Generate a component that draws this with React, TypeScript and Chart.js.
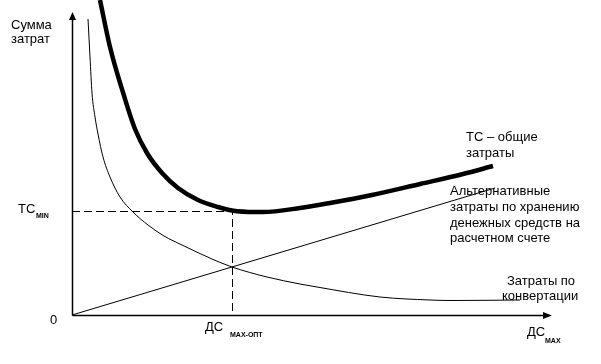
import React, { useEffect, useRef } from "react";
import { Chart, registerables } from "chart.js";

Chart.register(...registerables);

// Общие затраты (TC)
const tcX = [28, 38, 53, 63, 75, 90, 106, 126, 146, 160, 183, 191, 228, 258, 300, 348, 391, 421];
const tcY = [315, 268, 216, 186, 162, 142, 127, 115, 108, 104.5, 103, 103, 107, 112, 120, 131, 141, 149];

// Затраты по конвертации
const convX = [16, 18, 20, 23, 26, 31, 38, 48, 61, 76, 92, 110, 140, 160, 195, 228, 245, 308, 358, 378, 448];
const convY = [296, 258, 222, 198, 181, 158, 138, 118, 103, 90, 79, 70, 56, 48, 38, 31, 28, 18, 15, 14.5, 15];

// Альтернативные затраты (прямая)
const altX = [0, 423];
const altY = [0, 127];

// Оптимум
const optX = 160.5;
const tcMin = 103.5;

// Оси
const xAxisEnd = 480;
const yAxisEnd = 303;
const xMax = 480;
const yMax = 315;

const FONT = "'Liberation Sans', Arial, sans-serif";

const toPts = (xs: number[], ys: number[]) => xs.map((v, i) => ({ x: v, y: ys[i] }));

const decor = {
  id: "decor",
  beforeDatasetsDraw(chart: any) {
    const { ctx, scales } = chart;
    const x = scales.x, y = scales.y;
    const x0 = x.getPixelForValue(0) + 0.5;
    const y0 = y.getPixelForValue(0) + 0.5;
    const yt = y.getPixelForValue(yAxisEnd);
    const xr = x.getPixelForValue(xAxisEnd);
    ctx.save();
    ctx.strokeStyle = "#000";
    ctx.fillStyle = "#000";
    ctx.lineWidth = 1.5;
    ctx.beginPath();
    ctx.moveTo(x0, y0);
    ctx.lineTo(x0, yt + 6);
    ctx.moveTo(x0, y0);
    ctx.lineTo(xr - 6, y0);
    ctx.stroke();
    // arrowheads
    ctx.beginPath();
    ctx.moveTo(x0, yt);
    ctx.lineTo(x0 - 3.5, yt + 8);
    ctx.lineTo(x0 + 3.5, yt + 8);
    ctx.closePath();
    ctx.fill();
    ctx.beginPath();
    ctx.moveTo(xr, y0);
    ctx.lineTo(xr - 9, y0 - 3.5);
    ctx.lineTo(xr - 9, y0 + 3.5);
    ctx.closePath();
    ctx.fill();
    ctx.restore();
  },
  afterDatasetsDraw(chart: any) {
    const { ctx, scales } = chart;
    const x = scales.x, y = scales.y;
    ctx.save();
    ctx.fillStyle = "#000";
    ctx.textBaseline = "alphabetic";
    ctx.textAlign = "left";
    const main = `13px ${FONT}`;
    const sub = `bold 7px ${FONT}`;
    const txt = (s: string, px: number, py: number, f = main) => {
      ctx.font = f;
      ctx.fillText(s, px, py);
    };
    // Y label
    txt("Сумма", 11, 29);
    txt("затрат", 11, 43);
    // TC min
    const yMinPx = Math.round(y.getPixelForValue(tcMin));
    txt("TC", 18, yMinPx + 1);
    txt("MIN", 36, yMinPx + 6, sub);
    // zero
    txt("0", 50, 324);
    // ДС max-опт
    const xo = Math.round(x.getPixelForValue(optX));
    txt("ДС", xo - 28, 331);
    txt("MAX-ОПТ", xo - 3, 337, sub);
    // ДС max
    txt("ДС", 527, 336);
    txt("MAX", 545, 343, sub);
    // curve labels
    txt("TC – общие", 466, 141);
    txt("затраты", 466, 157);
    txt("Альтернативные", 450, 195);
    txt("затраты по хранению", 450, 211);
    txt("денежных средств на", 450, 227);
    txt("расчетном счете", 450, 242);
    txt("Затраты по", 507, 285);
    txt("конвертации", 502, 300);
    ctx.restore();
  },
};

export default function App() {
  const ref = useRef<HTMLCanvasElement>(null);
  useEffect(() => {
    if (!ref.current) return;
    const chart = new Chart(ref.current, {
      type: "scatter",
      data: {
        datasets: [
          {
            data: toPts(convX, convY),
            showLine: true,
            borderColor: "#000",
            borderWidth: 1,
            pointRadius: 0,
            cubicInterpolationMode: "monotone",
            clip: false,
          },
          {
            data: toPts(altX, altY),
            showLine: true,
            borderColor: "#000",
            borderWidth: 1,
            pointRadius: 0,
            clip: false,
          },
          {
            data: [
              { x: 0, y: tcMin },
              { x: optX, y: tcMin },
              { x: optX, y: 0 },
            ],
            showLine: true,
            borderColor: "#000",
            borderWidth: 1,
            borderDash: [8, 4],
            pointRadius: 0,
            clip: false,
          },
          {
            data: toPts(tcX, tcY),
            showLine: true,
            borderColor: "#000",
            borderWidth: 4.5,
            pointRadius: 0,
            cubicInterpolationMode: "monotone",
            clip: false,
          },
        ],
      },
      options: {
        responsive: false,
        animation: false,
        devicePixelRatio: 1,
        layout: { padding: { left: 72, right: 49, top: 0, bottom: 49 } },
        plugins: { legend: { display: false }, tooltip: { enabled: false } },
        scales: {
          x: { type: "linear", min: 0, max: xMax, display: false },
          y: { type: "linear", min: 0, max: yMax, display: false },
        },
      },
      plugins: [decor],
    } as any);
    return () => chart.destroy();
  }, []);
  return (
    <div style={{ position: "absolute", left: 0, top: 0, width: 601, height: 364, background: "#fff" }}>
      <canvas ref={ref} width={601} height={364} style={{ display: "block" }} />
    </div>
  );
}
